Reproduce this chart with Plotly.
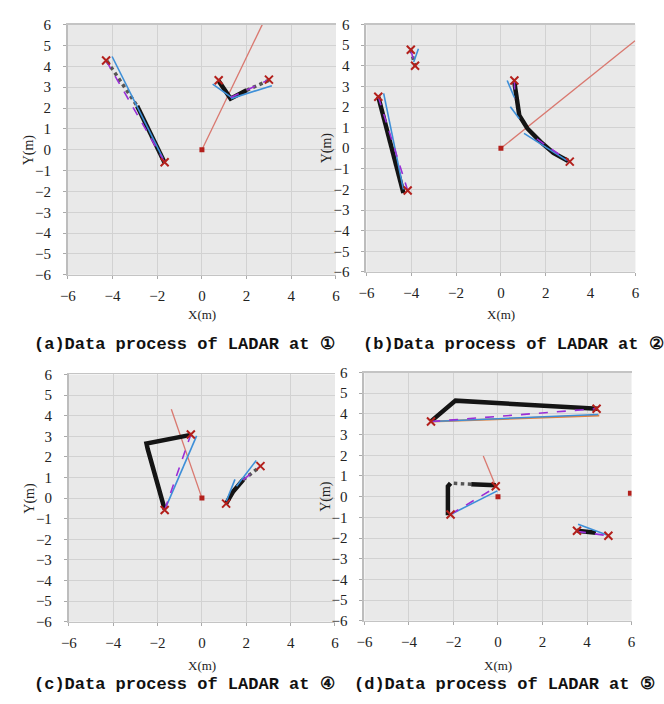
import plotly.graph_objects as go

# ---------------- data (metres) ----------------
panels = ["a", "b", "c", "d"]
captions = ["(a)Data process of LADAR at ①", "(b)Data process of LADAR at ②",
            "(c)Data process of LADAR at ④", "(d)Data process of LADAR at ⑤"]
x_ticks = [-6, -4, -2, 0, 2, 4, 6]
y_ticks = [-6, -5, -4, -3, -2, -1, 0, 1, 2, 3, 4, 5, 6]

# red ray from the sensor
ray_x = {"a": [0, 2.7], "b": [0, 5.98], "c": [0, -1.38], "d": [-0.1, -0.66]}
ray_y = {"a": [0, 6.0], "b": [0, 5.22], "c": [0, 4.31], "d": [0.5, 1.97]}
# sensor / red dots
dot_x = {"a": [0], "b": [0], "c": [0], "d": [0, 5.95]}
dot_y = {"a": [0], "b": [0], "c": [0], "d": [0, 0.16]}

# heavy black scan points (polylines)
scan_x = {
    "a": [[-2.9, -1.68], [0.75, 1.28, 2.0]],
    "b": [[-5.47, -4.35], [0.6, 0.7, 0.82, 1.18, 1.76, 2.34, 3.0]],
    "c": [[-0.5, -2.5, -2.45, -1.68], [1.09, 1.4, 1.86]],
    "d": [[-3.0, -1.91, 4.48], [-0.1, -1.2], [-2.13, -2.25, -2.25], [3.55, 4.4]],
}
scan_y = {
    "a": [[2.1, -0.6], [3.3, 2.45, 2.85]],
    "b": [[2.5, -2.17], [3.2, 2.3, 1.59, 0.96, 0.32, -0.23, -0.62]],
    "c": [[3.07, 2.65, 2.4, -0.55], [-0.27, 0.3, 0.89]],
    "d": [[3.65, 4.64, 4.25], [0.55, 0.6], [0.65, 0.5, -0.9], [-1.65, -1.75]],
}
# lighter dotted scan parts
lscan_x = {"a": [[-4.25, -2.9], [2.0, 3.0]], "b": [[-4.02, -3.83]], "c": [[1.86, 2.5]],
           "d": [[-1.2, -2.13]]}
lscan_y = {"a": [[4.25, 2.1], [2.85, 3.33]], "b": [[4.78, 4.0]], "c": [[0.89, 1.42]],
           "d": [[0.6, 0.65]]}

# blue fitted lines
blue_x = {
    "a": [[-4.02, -1.75], [0.48, 1.4], [1.3, 3.13]],
    "b": [[-5.23, -4.35], [-3.68, -3.89], [0.28, 0.6], [0.42, 0.82], [1.03, 2.93]],
    "c": [[-1.6, -0.24], [1.1, 1.49], [1.56, 2.45]],
    "d": [[-3.0, 4.5], [-2.13, -0.03], [3.6, 4.9]],
}
blue_y = {
    "a": [[4.47, -0.4], [3.15, 2.45], [2.45, 3.07]],
    "b": [[2.66, -2.0], [4.83, 4.19], [3.29, 2.46], [2.01, 1.43], [0.72, -0.59]],
    "c": [[-0.38, 3.02], [-0.15, 0.91], [0.57, 1.83]],
    "d": [[3.63, 3.97], [-0.86, 0.28], [-1.34, -1.85]],
}
# orange line (panel d)
orange_x = {"d": [[-3.0, 4.55]]}
orange_y = {"d": [[3.63, 3.92]]}

# purple dashed segments
purple_x = {
    "a": [[-4.29, -1.67], [1.28, 3.0]],
    "b": [[-5.47, -4.16], [-4.02, -3.83], [1.6, 3.07], [0.6, 0.62]],
    "c": [[-1.68, -0.5], [1.86, 2.64]],
    "d": [[-3.0, 4.43], [-2.13, -0.1], [3.55, 4.96]],
}
purple_y = {
    "a": [[4.28, -0.6], [2.5, 3.36]],
    "b": [[2.5, -2.05], [4.78, 4.0], [0.45, -0.65], [3.29, 2.4]],
    "c": [[-0.58, 3.09], [0.89, 1.55]],
    "d": [[3.63, 4.25], [-0.86, 0.45], [-1.68, -1.89]],
}
# red cross end points
end_x = {"a": [-4.29, -1.67, 0.75, 3.0], "b": [-5.47, -4.16, -4.02, -3.83, 0.6, 3.07],
         "c": [-0.5, -1.68, 1.09, 2.64], "d": [-3.01, 4.43, -0.1, -2.13, 3.55, 4.96]}
end_y = {"a": [4.28, -0.6, 3.33, 3.36], "b": [2.5, -2.05, 4.78, 4.0, 3.29, -0.65],
         "c": [3.09, -0.58, -0.27, 1.55], "d": [3.63, 4.25, 0.5, -0.86, -1.65, -1.89]}

# ---------------- layout geometry (page pixels) ----------------
W, H = 664, 704
px_x = {"a": (61, 334), "b": (365, 639), "c": (62, 333), "d": (363, 635)}
px_y = {"a": (17, 273), "b": (17, 270), "c": (375, 628), "d": (373, 627)}

def fx(px):
    return px / W

def fy(py):
    return 1 - py / H

fig = go.Figure()
layout = dict(width=W, height=H, margin=dict(l=0, r=0, t=0, b=0),
              paper_bgcolor="white", plot_bgcolor="#e9e9e9", showlegend=False)

RED_RAY = "#d9786f"
BLUE = "#3d8fd8"
PURPLE = "#9a2fd6"
XRED = "#b3201c"

def add_group(xs, ys, ax, ay, **kw):
    for xx, yy in zip(xs, ys):
        fig.add_trace(go.Scatter(x=xx, y=yy, xaxis=ax, yaxis=ay, hoverinfo="skip", **kw))

annotations = []
for i, p in enumerate(panels):
    n = "" if i == 0 else str(i + 1)
    ax, ay = "x" + n, "y" + n
    x0, x1 = px_x[p]
    y0, y1 = px_y[p]
    tickfont = dict(family="Liberation Serif", size=15, color="#222")
    layout["xaxis" + n] = dict(domain=[fx(x0), fx(x1)], anchor=ay, range=[-6, 6],
                               tickvals=x_ticks, ticks="outside", ticklen=3, tickcolor="#aaa",
                               ticklabelstandoff=4,
                               showgrid=True, gridcolor="#d2d2d2", gridwidth=1, zeroline=False,
                               showline=True, linecolor="#c4c4c4", linewidth=1.5, mirror=True,
                               tickfont=tickfont, fixedrange=True)
    layout["yaxis" + n] = dict(domain=[fy(y1), fy(y0)], anchor=ax, range=[-6, 6],
                               tickvals=y_ticks, ticks="outside", ticklen=3, tickcolor="#aaa",
                               ticklabelstandoff=9,
                               showgrid=True, gridcolor="#d2d2d2", gridwidth=1, zeroline=False,
                               showline=True, linecolor="#bdbdbd", linewidth=2, mirror=False,
                               tickfont=tickfont, fixedrange=True)

    # red ray
    fig.add_trace(go.Scatter(x=ray_x[p], y=ray_y[p], xaxis=ax, yaxis=ay, mode="lines",
                             line=dict(color=RED_RAY, width=1.3), hoverinfo="skip"))
    # orange
    if p in orange_x:
        add_group(orange_x[p], orange_y[p], ax, ay, mode="lines",
                  line=dict(color="#e0823d", width=2))
    # light dotted scans
    add_group(lscan_x.get(p, []), lscan_y.get(p, []), ax, ay, mode="lines",
              line=dict(color="#555", width=3.5, dash="dot"))
    # heavy black scans
    add_group(scan_x[p], scan_y[p], ax, ay, mode="lines",
              line=dict(color="#141414", width=4.5))
    # blue fits
    add_group(blue_x[p], blue_y[p], ax, ay, mode="lines",
              line=dict(color=BLUE, width=1.6))
    # purple dashed
    add_group(purple_x[p], purple_y[p], ax, ay, mode="lines",
              line=dict(color=PURPLE, width=1.6, dash="dash"))
    # sensor dots
    fig.add_trace(go.Scatter(x=dot_x[p], y=dot_y[p], xaxis=ax, yaxis=ay, mode="markers",
                             marker=dict(color=XRED, size=5, symbol="square"), hoverinfo="skip"))
    # end crosses
    fig.add_trace(go.Scatter(x=end_x[p], y=end_y[p], xaxis=ax, yaxis=ay, mode="markers",
                             marker=dict(symbol="x-thin", size=8, line=dict(color=XRED, width=2)),
                             hoverinfo="skip"))

    # axis titles & caption
    cx = (x0 + x1) / 2
    xlab_y = 314 if p in ("a", "b") else 673
    annotations.append(dict(x=fx(cx), y=fy(xlab_y), xref="paper", yref="paper",
                            text="X(m)", showarrow=False, xanchor="center", yanchor="middle",
                            font=dict(family="Liberation Serif", size=13, color="#222")))
    annotations.append(dict(x=fx(x0 - 40), y=fy((y0 + y1) / 2), xref="paper", yref="paper",
                            text="Y(m)", showarrow=False, textangle=-90, xanchor="center",
                            yanchor="middle",
                            font=dict(family="Liberation Serif", size=14, color="#222")))
    cap_y = 344 if p in ("a", "b") else 692
    cap_x = {"a": 24, "b": 360, "c": 24, "d": 350}[p]
    annotations.append(dict(x=fx(cap_x), y=fy(cap_y), xref="paper", yref="paper",
                            text=captions[i], showarrow=False, xanchor="left", yanchor="middle",
                            font=dict(family="Liberation Mono", size=17, color="#111",
                                      weight="bold")))

layout["annotations"] = annotations
fig.update_layout(**layout)
fig.write_html("out.html", config={"displayModeBar": False, "staticPlot": True},
               post_script="document.body.style.margin='0';"
                           "document.documentElement.style.overflow='hidden';"
                           "document.body.style.overflow='hidden';")
